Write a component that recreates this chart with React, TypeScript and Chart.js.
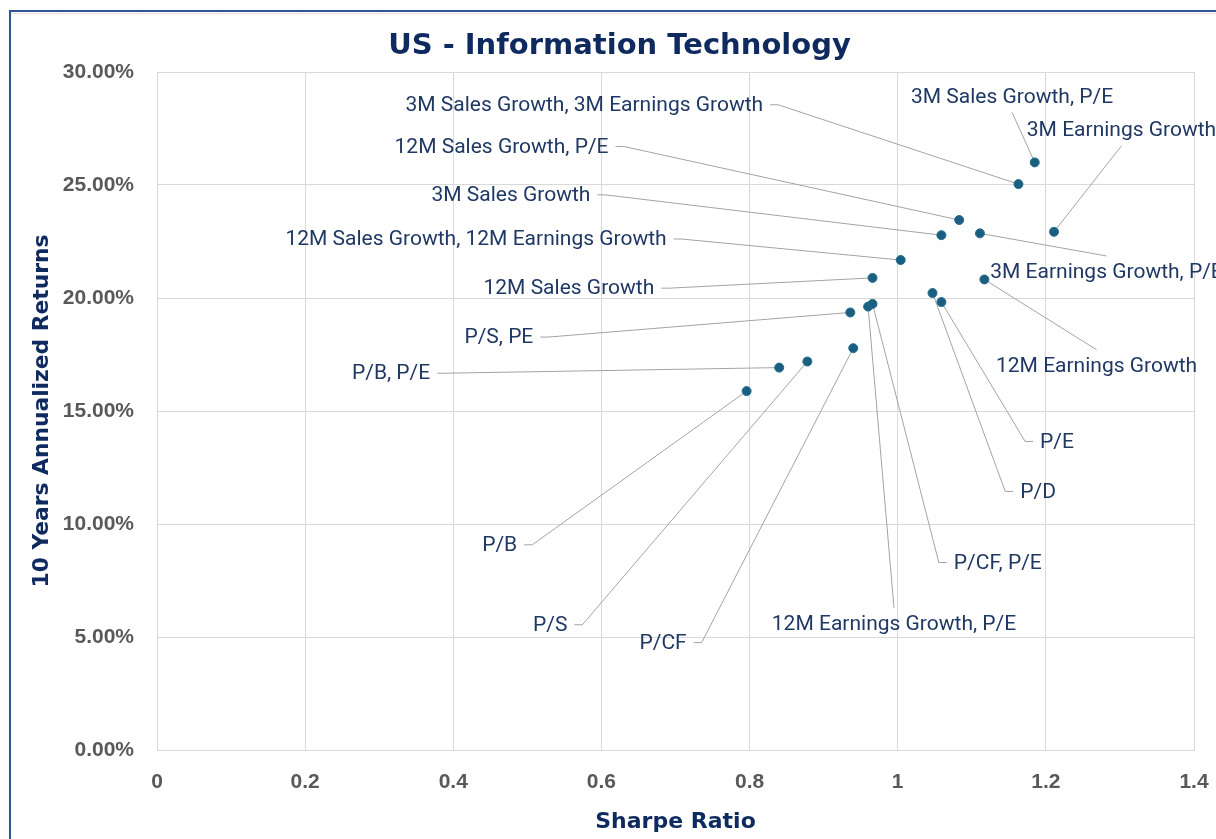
import React, { useEffect, useRef } from 'react';
import { Chart, registerables } from 'chart.js';

Chart.register(...registerables);

// ---------------- data ----------------
const CATEGORIES: string[] = [
  '3M Sales Growth, P/E',
  '3M Earnings Growth',
  '3M Sales Growth, 3M Earnings Growth',
  '12M Sales Growth, P/E',
  '3M Sales Growth',
  '3M Earnings Growth, P/E',
  '12M Sales Growth, 12M Earnings Growth',
  '12M Sales Growth',
  '12M Earnings Growth',
  'P/D',
  'P/E',
  '12M Earnings Growth, P/E',
  'P/CF, P/E',
  'P/S, PE',
  'P/CF',
  'P/S',
  'P/B, P/E',
  'P/B',
];

const SHARPE: number[] = [
  1.185, 1.211, 1.163, 1.083, 1.059, 1.111, 1.004, 0.966, 1.117,
  1.047, 1.059, 0.960, 0.966, 0.936, 0.940, 0.878, 0.840, 0.796,
];

const RETURNS: number[] = [
  26.0, 22.93, 25.04, 23.45, 22.78, 22.86, 21.68, 20.89, 20.82,
  20.22, 19.82, 19.62, 19.74, 19.36, 17.78, 17.19, 16.92, 15.88,
];

const X_TICK_LABELS: string[] = ['0', '0.2', '0.4', '0.6', '0.8', '1', '1.2', '1.4'];
const Y_TICK_LABELS: string[] = ['0.00%', '5.00%', '10.00%', '15.00%', '20.00%', '25.00%', '30.00%'];

const TITLE = 'US - Information Technology';
const X_TITLE = 'Sharpe Ratio';
const Y_TITLE = '10 Years Annualized Returns';

// ---------------- label placement (pixel offsets from each point) ----------------
type Placement = { dx: number; dy: number; align: 'left' | 'right' | 'center'; attach: 'side' | 'top' | 'bottom' };
const PLACEMENT: Placement[] = [
  { dx: -22.7, dy: -66, align: 'center', attach: 'bottom' },
  { dx: 67.5, dy: -102, align: 'center', attach: 'bottom' },
  { dx: -255.3, dy: -79.3, align: 'right', attach: 'side' },
  { dx: -350.7, dy: -73.6, align: 'right', attach: 'side' },
  { dx: -351, dy: -40.3, align: 'right', attach: 'side' },
  { dx: 10.3, dy: 38.6, align: 'left', attach: 'top' },
  { dx: -234, dy: -21, align: 'right', attach: 'side' },
  { dx: -218.3, dy: 10.3, align: 'right', attach: 'side' },
  { dx: 112.2, dy: 86.3, align: 'center', attach: 'top' },
  { dx: 87.7, dy: 198.4, align: 'left', attach: 'side' },
  { dx: 98.7, dy: 139.4, align: 'left', attach: 'side' },
  { dx: 25.9, dy: 317.3, align: 'center', attach: 'top' },
  { dx: 81.3, dy: 258.7, align: 'left', attach: 'side' },
  { dx: -317, dy: 24.6, align: 'right', attach: 'side' },
  { dx: -166.6, dy: 294.4, align: 'right', attach: 'side' },
  { dx: -240, dy: 263.3, align: 'right', attach: 'side' },
  { dx: -349, dy: 5.6, align: 'right', attach: 'side' },
  { dx: -229.4, dy: 153.7, align: 'right', attach: 'side' },
];

const W = 1216;
const H = 839;
const NAVY = '#0E2A5E';
const LABEL_COLOR = '#1F3864';
const LABEL_FONT = '21px Roboto';
const HEAD_FAMILY = '"DejaVu Sans"';
const GAP = 7;
const HOOK = 8;
const VOFF = 16;

const annotPlugin = {
  id: 'annot',
  beforeDatasetsDraw(chart: any) {
    const ctx: CanvasRenderingContext2D = chart.ctx;
    const meta = chart.getDatasetMeta(0);
    ctx.save();
    ctx.font = LABEL_FONT;
    ctx.strokeStyle = '#A3A3A3';
    ctx.lineWidth = 1;
    meta.data.forEach((pt: any, i: number) => {
      const p = PLACEMENT[i];
      const ax = pt.x + p.dx;
      const cy = pt.y + p.dy;
      const w = ctx.measureText(CATEGORIES[i]).width;
      ctx.beginPath();
      if (p.attach === 'side') {
        const s = p.align === 'right' ? 1 : -1;
        ctx.moveTo(ax + s * GAP, cy);
        ctx.lineTo(ax + s * (GAP + HOOK), cy);
        ctx.lineTo(pt.x, pt.y);
      } else {
        const cx = p.align === 'center' ? ax : p.align === 'left' ? ax + w / 2 : ax - w / 2;
        const ey = p.attach === 'top' ? cy - VOFF : cy + VOFF;
        ctx.moveTo(cx, ey);
        ctx.lineTo(pt.x, pt.y);
      }
      ctx.stroke();
    });
    ctx.restore();
  },
  afterDatasetsDraw(chart: any) {
    const ctx: CanvasRenderingContext2D = chart.ctx;
    const meta = chart.getDatasetMeta(0);
    ctx.save();
    ctx.font = LABEL_FONT;
    ctx.fillStyle = LABEL_COLOR;
    ctx.textBaseline = 'middle';
    meta.data.forEach((pt: any, i: number) => {
      const p = PLACEMENT[i];
      ctx.textAlign = p.align;
      ctx.fillText(CATEGORIES[i], pt.x + p.dx, pt.y + p.dy + 1);
    });
    ctx.restore();
  },
  afterDraw(chart: any) {
    const ctx: CanvasRenderingContext2D = chart.ctx;
    const area = chart.chartArea;
    ctx.save();
    // title
    ctx.fillStyle = NAVY;
    ctx.font = `bold 29px ${HEAD_FAMILY}`;
    ctx.textAlign = 'center';
    ctx.textBaseline = 'alphabetic';
    ctx.fillText(TITLE, 619.5, 54);
    // x title
    ctx.font = `bold 22px ${HEAD_FAMILY}`;
    ctx.fillText(X_TITLE, (area.left + area.right) / 2, 828);
    // y title
    ctx.font = `bold 21.8px ${HEAD_FAMILY}`;
    ctx.translate(48, (area.top + area.bottom) / 2);
    ctx.rotate(-Math.PI / 2);
    ctx.fillText(Y_TITLE, 0, 0);
    ctx.restore();
    // frame
    ctx.save();
    ctx.strokeStyle = '#E0E0E0';
    ctx.lineWidth = 1;
    ctx.beginPath();
    ctx.moveTo(11, 13.5);
    ctx.lineTo(W, 13.5);
    for (let x = 61; x < W; x += 80.1) {
      ctx.moveTo(Math.round(x) + 0.5, 11);
      ctx.lineTo(Math.round(x) + 0.5, 13);
    }
    ctx.stroke();
    ctx.strokeStyle = '#2F5597';
    ctx.lineWidth = 2;
    ctx.beginPath();
    ctx.moveTo(10, H);
    ctx.lineTo(10, 11);
    ctx.lineTo(W, 11);
    ctx.stroke();
    ctx.restore();
  },
};

export default function App() {
  const canvasRef = useRef<HTMLCanvasElement | null>(null);

  useEffect(() => {
    document.body.style.margin = '0';
    const canvas = canvasRef.current;
    if (!canvas) return;
    const points = SHARPE.map((x, i) => ({ x, y: RETURNS[i] }));
    const chart = new Chart(canvas, {
      type: 'scatter',
      data: {
        datasets: [
          {
            data: points,
            backgroundColor: '#1A5E80',
            borderColor: '#246C90',
            borderWidth: 1,
            pointRadius: 4.5,
          },
        ],
      },
      options: {
        animation: false,
        responsive: false,
        devicePixelRatio: 1,
        events: [],
        layout: { padding: { top: 72, right: 22, left: 0, bottom: 0 } },
        plugins: { legend: { display: false }, tooltip: { enabled: false }, title: { display: false } },
        scales: {
          x: {
            type: 'linear',
            min: 0,
            max: 1.4,
            afterFit: (s: any) => { s.height = 89; s.paddingLeft = 0; s.paddingRight = 0; },
            afterBuildTicks: (s: any) => { s.ticks = X_TICK_LABELS.map((_, i) => ({ value: i * 0.2 })); },
            ticks: {
              callback: (_v: any, i: number) => X_TICK_LABELS[i],
              color: '#595959',
              font: { family: 'Liberation Sans', weight: 'bold', size: 21 },
              padding: 20,
              maxRotation: 0,
            },
            grid: { color: '#D9D9D9', drawTicks: false },
            border: { color: '#D9D9D9' },
          },
          y: {
            type: 'linear',
            min: 0,
            max: 30,
            afterFit: (s: any) => { s.width = 157; s.paddingTop = 0; s.paddingBottom = 0; },
            afterBuildTicks: (s: any) => { s.ticks = Y_TICK_LABELS.map((_, i) => ({ value: i * 5 })); },
            ticks: {
              callback: (_v: any, i: number) => Y_TICK_LABELS[i],
              color: '#595959',
              font: { family: 'Liberation Sans', weight: 'bold', size: 21 },
              padding: 23,
            },
            grid: { color: '#D9D9D9', drawTicks: false },
            border: { color: '#D9D9D9' },
          },
        },
      },
      plugins: [annotPlugin],
    } as any);
    return () => chart.destroy();
  }, []);

  return (
    <div style={{ position: 'absolute', left: 0, top: 0, width: W, height: H, background: '#fff' }}>
      <canvas ref={canvasRef} width={W} height={H} style={{ display: 'block', width: W, height: H }} />
    </div>
  );
}
